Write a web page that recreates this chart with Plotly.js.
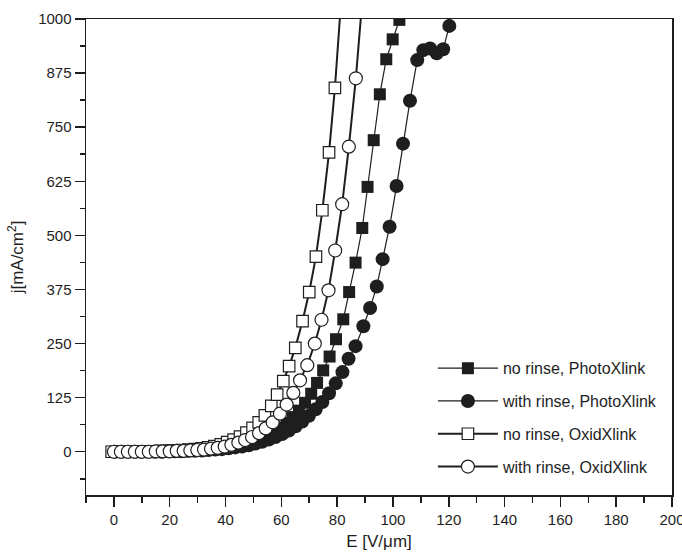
<!DOCTYPE html>
<html>
<head>
<meta charset="utf-8">
<script src="https://cdn.plot.ly/plotly-3.0.1.min.js"></script>
<style>
html,body{margin:0;padding:0;background:#fff;}
#chart{width:682px;height:555px;}
</style>
</head>
<body>
<div id="chart"></div>
<script>
// ---- data ----
var seriesNames = ["no rinse, PhotoXlink", "with rinse, PhotoXlink", "no rinse, OxidXlink", "with rinse, OxidXlink"];

var xNoRinsePhoto = [0.3, 2.5, 4.7, 6.9, 9.1, 11.3, 13.5, 15.7, 17.9, 20.1, 22.3, 24.5, 26.7, 28.9, 31.1, 33.3, 35.5, 37.7, 39.9, 42.1, 44.3, 46.5, 48.7, 50.9, 53.1, 55.3, 57.5, 59.7, 61.9, 64.1, 66.3, 68.5, 70.7, 72.8, 75.0, 77.3, 79.6, 82.2, 84.3, 86.6, 89.0, 90.9, 93.1, 95.3, 97.6, 99.9, 102.3];
var jNoRinsePhoto = [0, 0, 0, 0, 0, 0, 0, 0, 0, 1, 1, 1, 2, 2, 3, 4, 5, 7, 9, 11, 14, 17, 21, 26, 32, 39, 47, 56, 67, 80, 95, 113, 134, 159, 188, 220, 260, 306, 369, 437, 517, 612, 720, 826, 907, 953, 998];

var xRinsePhoto = [0.3, 2.7, 5.1, 7.5, 9.9, 12.3, 14.7, 17.1, 19.5, 21.9, 24.3, 26.7, 29.1, 31.5, 33.9, 36.3, 38.7, 41.1, 43.5, 45.9, 48.3, 50.7, 53.1, 55.5, 57.9, 60.3, 62.7, 65.1, 67.5, 69.9, 72.3, 74.7, 77.1, 79.5, 81.9, 84.1, 86.6, 89.4, 91.8, 94.2, 96.3, 98.8, 101.3, 103.6, 106.1, 108.7, 110.9, 113.3, 115.7, 118.0, 120.2];
var jRinsePhoto = [0, 0, 0, 0, 0, 0, 0, 0, 1, 1, 1, 2, 2, 3, 4, 5, 6, 8, 10, 12, 15, 19, 23, 28, 34, 41, 49, 59, 70, 83, 98, 115, 135, 158, 184, 215, 244, 290, 332, 382, 445, 520, 614, 712, 811, 905, 928, 932, 921, 930, 984];

var xNoRinseOxid = [-0.8, 1.5, 3.8, 6.1, 8.4, 10.7, 13.0, 15.3, 17.6, 19.9, 22.2, 24.5, 26.8, 29.1, 31.4, 33.7, 36.0, 38.3, 40.6, 42.9, 45.2, 47.5, 49.7, 51.9, 54.1, 56.4, 58.5, 60.7, 62.8, 65.0, 67.6, 70.0, 72.4, 74.7, 77.1, 79.2, 81.4];
var jNoRinseOxid = [0, 0, 0, 0, 0, 1, 1, 1, 2, 2, 3, 4, 5, 6, 8, 10, 13, 17, 22, 28, 35, 44, 55, 68, 84, 106, 132, 163, 198, 240, 302, 369, 451, 558, 692, 841, 1040];

var xRinseOxid = [0.0, 2.5, 5.0, 7.5, 10.0, 12.5, 15.0, 17.5, 20.0, 22.5, 25.0, 27.4, 29.9, 32.3, 34.8, 37.2, 39.7, 42.1, 44.6, 47.0, 49.5, 52.0, 54.4, 56.9, 59.5, 61.9, 64.3, 66.7, 69.3, 72.0, 74.4, 76.9, 79.3, 81.8, 84.2, 86.7, 89.1];
var jRinseOxid = [0, 0, 0, 0, 0, 0, 1, 1, 1, 2, 2, 3, 4, 5, 7, 9, 12, 16, 21, 27, 34, 43, 54, 68, 88, 109, 136, 165, 200, 250, 305, 373, 465, 572, 705, 863, 1050];

var xTicks = [0, 20, 40, 60, 80, 100, 120, 140, 160, 180, 200];
var yTicks = [0, 125, 250, 375, 500, 625, 750, 875, 1000];

// ---- styles ----
var ink = "#1e1e1e";
var font = "Liberation Sans, Arial, sans-serif";

function tr(x, y, name, sym, lw, msize, grp) {
  var open = sym.indexOf("open") >= 0;
  return {
    type: "scatter", mode: "lines+markers", x: x, y: y, name: name,
    legendgroup: grp, cliponaxis: true,
    line: {color: ink, width: lw},
    marker: {
      symbol: open ? sym.replace("-open", "") : sym,
      size: msize,
      color: open ? "#ffffff" : ink,
      line: {color: ink, width: open ? 1.2 : 0}
    }
  };
}

var data = [
  tr(xNoRinsePhoto, jNoRinsePhoto, seriesNames[0], "square", 1.2, 12, "a"),
  tr(xRinsePhoto, jRinsePhoto, seriesNames[1], "circle", 1.2, 14, "b"),
  tr(xNoRinseOxid, jNoRinseOxid, seriesNames[2], "square-open", 2, 11.5, "c"),
  tr(xRinseOxid, jRinseOxid, seriesNames[3], "circle-open", 2, 13, "d")
];

var layout = {
  width: 682, height: 555,
  margin: {l: 86, r: 10, t: 19, b: 60},
  paper_bgcolor: "#fff", plot_bgcolor: "#fff",
  font: {family: font, size: 15, color: ink},
  showlegend: true,
  legend: {
    x: 0.592, y: 0.302, xanchor: "left", yanchor: "top",
    bgcolor: "rgba(0,0,0,0)", borderwidth: 0,
    traceorder: "grouped", tracegroupgap: 9,
    itemsizing: "trace", itemwidth: 60,
    font: {family: font, size: 16, color: ink}
  },
  xaxis: {
    range: [-10, 200], tickmode: "array", tickvals: xTicks,
    ticks: "outside", ticklen: 10, tickwidth: 1.5, tickcolor: ink,
    ticklabeloverflow: "allow",
    minor: {dtick: 10, tick0: 0, ticks: "outside", ticklen: 6, tickwidth: 1.5, tickcolor: ink},
    showline: true, linecolor: ink, linewidth: 1.5, mirror: true,
    showgrid: false, zeroline: false,
    tickfont: {family: font, size: 15, color: ink},
    title: {text: "E [V/μm]", font: {family: font, size: 17, color: ink}, standoff: 8}
  },
  yaxis: {
    range: [-100, 1000], tickmode: "array", tickvals: yTicks,
    ticks: "outside", ticklen: 10, tickwidth: 1.5, tickcolor: ink,
    minor: {dtick: 62.5, tick0: 0, ticks: "outside", ticklen: 5, tickwidth: 1.5, tickcolor: ink},
    showline: true, linecolor: ink, linewidth: 1.5, mirror: true,
    showgrid: false, zeroline: false,
    tickfont: {family: font, size: 15, color: ink},
    title: {text: "j[mA/cm<sup>2</sup>]", font: {family: font, size: 17, color: ink}, standoff: 10}
  }
};

Plotly.newPlot("chart", data, layout, {displayModeBar: false, staticPlot: true});
</script>
</body>
</html>
